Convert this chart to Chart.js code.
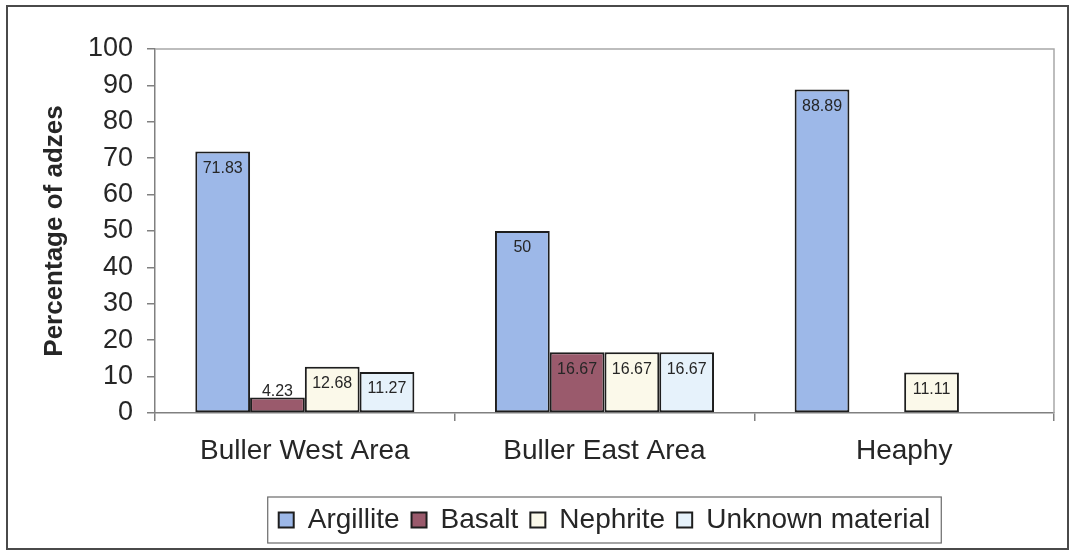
<!DOCTYPE html>
<html>
<head>
<meta charset="utf-8">
<title>Percentage of adzes by material</title>
<script src="https://cdn.jsdelivr.net/npm/chart.js@4.4.1/dist/chart.umd.min.js"></script>
<style>
    html, body { margin: 0; padding: 0; background: #fff; }
    #wrap { width: 1075px; height: 552px; }
</style>
</head>
<body>
<div id="wrap"><canvas id="adzeChart" width="1075" height="552"></canvas></div>
<script>
// Adze materials per area (percent)
const areas = ['Buller West Area', 'Buller East Area', 'Heaphy'];
const argillite = [71.83, 50, 88.89];
const basalt = [4.23, 16.67, null];
const nephrite = [12.68, 16.67, 11.11];
const unknownMaterial = [11.27, 16.67, null];
const yTicks = [0, 10, 20, 30, 40, 50, 60, 70, 80, 90, 100];

const FONT = "'Liberation Sans', Arial, sans-serif";
const INK = '#262626';

// White page, outer frame and the grey plot-area frame
const framePlugin = {
    id: 'frames',
    beforeDraw(chart) {
        const ctx = chart.ctx;
        ctx.save();
        ctx.fillStyle = '#fff';
        ctx.fillRect(0, 0, chart.width, chart.height);
        ctx.restore();
    },
    beforeDatasetsDraw(chart) {
        const { ctx, chartArea } = chart;
        ctx.save();
        ctx.strokeStyle = '#a8a8a8';
        ctx.lineWidth = 1.5;
        ctx.beginPath();
        ctx.moveTo(chartArea.left, chartArea.top);
        ctx.lineTo(chartArea.right, chartArea.top);
        ctx.lineTo(chartArea.right, chartArea.bottom);
        ctx.stroke();
        ctx.restore();
    },
    afterDraw(chart) {
        const ctx = chart.ctx;
        ctx.save();
        ctx.strokeStyle = '#4a4a4a';
        ctx.lineWidth = 2;
        ctx.strokeRect(7, 6, chart.width - 14, chart.height - 9);

        // box around the legend entries
        const boxes = chart.legend.legendHitBoxes;
        if (boxes && boxes.length) {
            const left = Math.min(...boxes.map(b => b.left)) - 11;
            const right = Math.max(...boxes.map(b => b.left + b.width)) + 11;
            const top = Math.min(...boxes.map(b => b.top)) - 9;
            const bottom = Math.max(...boxes.map(b => b.top + b.height)) + 9;
            ctx.strokeStyle = '#6a6a6a';
            ctx.lineWidth = 1.2;
            ctx.strokeRect(left, top, right - left, bottom - top);
        }
        ctx.restore();
    }
};

// Value labels just inside the top of each bar
const valueLabels = {
    id: 'valueLabels',
    afterDatasetsDraw(chart) {
        const ctx = chart.ctx;
        ctx.save();
        ctx.font = '16px ' + FONT;
        ctx.fillStyle = INK;
        ctx.textAlign = 'center';
        ctx.textBaseline = 'middle';
        chart.data.datasets.forEach((ds, i) => {
            const meta = chart.getDatasetMeta(i);
            meta.data.forEach((bar, j) => {
                const v = ds.data[j];
                if (v === null || v === undefined) return;
                const y = Math.min(bar.y + 17, bar.base - 21);
                ctx.fillText(String(v), bar.x, y);
            });
        });
        ctx.restore();
    }
};

function makeSet(label, data, color) {
    return {
        label: label,
        data: data,
        backgroundColor: color,
        borderColor: '#1e1e1e',
        borderWidth: 2,
        borderSkipped: false,
        categoryPercentage: 0.731,
        barPercentage: 1.0
    };
}

new Chart(document.getElementById('adzeChart'), {
    type: 'bar',
    data: {
        labels: areas,
        datasets: [
            makeSet('Argillite', argillite, '#9db8e8'),
            makeSet('Basalt', basalt, '#9a5a6c'),
            makeSet('Nephrite', nephrite, '#fbf9ea'),
            makeSet('Unknown material', unknownMaterial, '#e6f2fb')
        ]
    },
    options: {
        responsive: false,
        animation: false,
        layout: {
            padding: { left: 20, top: 49, right: 21, bottom: 8 }
        },
        plugins: {
            legend: {
                position: 'bottom',
                fullSize: false,
                labels: {
                    boxWidth: 15,
                    boxHeight: 15,
                    padding: 12,
                    color: INK,
                    font: { family: FONT, size: 28 }
                }
            },
            tooltip: { enabled: false }
        },
        scales: {
            x: {
                afterFit(scale) {
                    scale.height = 81;
                },
                grid: {
                    offset: true,
                    drawOnChartArea: false,
                    drawTicks: true,
                    tickLength: 8,
                    color: '#808080',
                    lineWidth: 1.5
                },
                border: { display: true, color: '#808080', width: 1.5 },
                ticks: {
                    padding: 13,
                    color: INK,
                    font: { family: FONT, size: 28 }
                }
            },
            y: {
                min: 0,
                max: 100,
                afterFit(scale) {
                    scale.width = 135;
                },
                afterBuildTicks(scale) {
                    scale.ticks = yTicks.map(v => ({ value: v }));
                },
                grid: {
                    drawOnChartArea: false,
                    drawTicks: true,
                    tickLength: 8,
                    color: '#808080',
                    lineWidth: 1.5
                },
                border: { display: true, color: '#808080', width: 1.5 },
                ticks: {
                    padding: 14,
                    color: INK,
                    font: { family: FONT, size: 27 }
                },
                title: {
                    display: true,
                    text: 'Percentage of adzes',
                    color: INK,
                    padding: { top: 19, bottom: 0 },
                    font: { family: FONT, size: 26, weight: 'bold' }
                }
            }
        }
    },
    plugins: [framePlugin, valueLabels]
});
</script>
</body>
</html>
